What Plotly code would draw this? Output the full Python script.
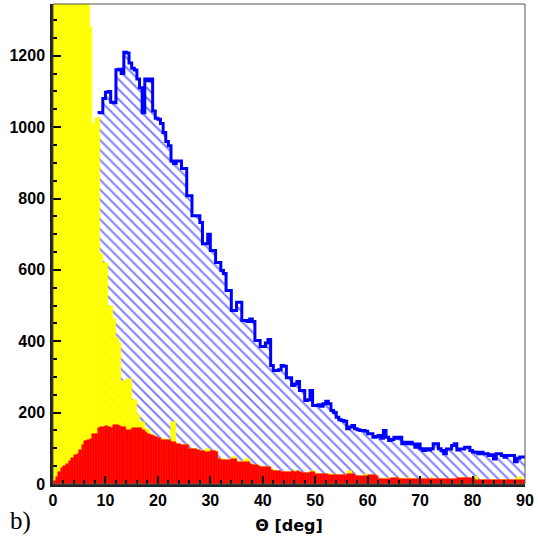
import numpy as np
import plotly.graph_objects as go

# theta histogram, 180 bins of 0.5 deg between 0 and 90
bin_width = 0.5
theta = np.arange(180) * bin_width + bin_width / 2
edges = np.arange(181) * bin_width

# all events (yellow, off scale in the first bins)
yellow = [1700, 2600, 3300, 3600, 3700, 3600, 3400, 3100, 2800, 2500,
          2200, 1900, 1700, 1500, 1281, 1010, 1025, 1025, 645, 620,
          620, 500, 500, 463, 408, 394, 290, 290, 295, 295,
          234, 234, 192, 173, 173, 155, 155, 140, 137, 133,
          130, 126, 125, 124, 123, 173, 173, 115, 112, 110,
          110, 111, 99, 98, 98, 95, 94, 93, 97, 97,
          93, 93, 92, 71, 69, 69, 68, 67, 77, 76,
          64, 63, 64, 70, 70, 56, 53, 53, 51, 50,
          49, 48, 48, 41, 38, 37, 37, 34, 34, 34,
          35, 37, 36, 37, 34, 32, 32, 32, 37, 36,
          30, 29, 29, 29, 29, 28, 28, 26, 25, 26,
          26, 25, 36, 36, 28, 23, 23, 23, 23, 27,
          25, 25, 25, 23, 15, 16, 15, 16, 15, 18,
          18, 18, 16, 15, 14, 16, 15, 15, 14, 15,
          15, 16, 15, 14, 19, 15, 15, 15, 15, 15,
          15, 15, 15, 15, 18, 18, 18, 18, 18, 18,
          20, 20, 11, 11, 11, 11, 11, 11, 11, 12,
          12, 12, 12, 12, 12, 12, 12, 19, 19, 12]

# selected events (blue hatched); hidden below the yellow for theta < 8.5
blue = [None] * 17 + [
    1041, 1040, 1080,
    1098, 1100, 1070, 1068, 1161, 1162, 1150, 1210, 1208, 1180,
    1165, 1160, 1135, 1110, 1040, 1135, 1130, 1135, 1045, 1025,
    1022, 1010, 985, 960, 948, 905, 898, 905, 905, 884,
    884, 808, 808, 752, 752, 752, 733, 673, 673, 700,
    654, 654, 621, 621, 598, 590, 542, 542, 486, 486,
    509, 509, 458, 458, 455, 462, 455, 402, 402, 385,
    385, 395, 405, 332, 318, 318, 320, 332, 330, 298,
    298, 276, 280, 287, 262, 262, 234, 236, 262, 220,
    220, 222, 218, 225, 232, 225, 206, 200, 187, 180,
    178, 176, 155, 160, 164, 155, 152, 150, 150, 148,
    141, 141, 131, 133, 136, 128, 150, 131, 122, 125,
    131, 128, 131, 113, 117, 113, 117, 112, 103, 112,
    99, 94, 99, 95, 99, 113, 113, 99, 94, 85,
    98, 98, 108, 113, 95, 98, 98, 103, 103, 94,
    90, 89, 85, 89, 85, 85, 80, 82, 70, 85,
    85, 80, 75, 80, 80, 80, 62, 72, 76, 76]

# background (red)
red = [8, 19, 33, 45, 50, 57, 64, 72, 80, 85,
       94, 109, 120, 123, 126, 140, 141, 158, 160, 161,
       162, 160, 157, 164, 164, 162, 161, 160, 150, 151,
       156, 157, 157, 156, 151, 146, 140, 136, 135, 131,
       128, 124, 123, 123, 122, 119, 118, 113, 111, 109,
       109, 110, 98, 97, 97, 94, 93, 92, 91, 90,
       92, 92, 91, 70, 68, 68, 67, 66, 70, 70,
       63, 62, 63, 63, 62, 55, 52, 52, 50, 49,
       48, 47, 47, 40, 37, 36, 36, 33, 33, 33,
       34, 36, 35, 36, 33, 31, 31, 31, 33, 33,
       29, 28, 28, 28, 28, 25, 25, 25, 24, 25,
       25, 24, 29, 29, 27, 22, 22, 22, 22, 23,
       24, 24, 24, 22, 14, 15, 14, 15, 14, 17,
       17, 17, 15, 14, 13, 15, 14, 14, 13, 14,
       14, 15, 14, 13, 14, 14, 14, 14, 13, 14,
       14, 15, 14, 14, 17, 17, 17, 16, 17, 17,
       17, 10, 10, 11, 10, 10, 11, 10, 10, 11,
       11, 11, 12, 11, 11, 11, 11, 11, 11, 12]

fig = go.Figure()

fig.add_trace(go.Bar(
    x=theta, y=blue, width=bin_width, hoverinfo="skip",
    marker=dict(color="white", line_width=0,
                pattern=dict(shape="\\", fgcolor="#0000ff", bgcolor="white",
                             size=7, solidity=0.28)),
))
fig.add_trace(go.Scatter(
    x=edges, y=blue + [blue[-1]], mode="lines", hoverinfo="skip",
    line=dict(shape="hv", color="#0000ff", width=3),
))
fig.add_trace(go.Bar(
    x=theta, y=yellow, width=bin_width, hoverinfo="skip",
    marker=dict(color="#ffff00", line=dict(color="#ffff00", width=0.5)),
))
fig.add_trace(go.Bar(
    x=theta, y=red, width=bin_width, hoverinfo="skip",
    marker=dict(color="#ff0000", line=dict(color="#ff0000", width=0.5)),
))

tick_font = dict(family="Liberation Sans", size=16, color="black", weight="bold")

fig.update_layout(
    width=538, height=541,
    margin=dict(l=53, r=8, t=4, b=57),
    barmode="overlay", bargap=0,
    showlegend=False,
    plot_bgcolor="white", paper_bgcolor="white",
    xaxis=dict(range=[0, 90], tick0=0, dtick=10, ticks="inside", ticklen=8,
               tickwidth=1.5, tickcolor="black", showgrid=False, zeroline=False,
               showline=True, linewidth=2.5, linecolor="#222",
               ticklabeloverflow="allow",
               minor=dict(dtick=2, ticks="inside", ticklen=4, tickcolor="black"),
               tickfont=tick_font,
               title=dict(text="Θ [deg]", standoff=12,
                          font=dict(family="DejaVu Sans", size=16, color="black",
                                    weight="bold"))),
    yaxis=dict(range=[0, 1345], tick0=0, dtick=200, ticks="inside", ticklen=8,
               tickwidth=1.5, tickcolor="black", showgrid=False, zeroline=False,
               showline=True, linewidth=2.5, linecolor="#222",
               ticklabelstandoff=2,
               minor=dict(dtick=50, ticks="inside", ticklen=4, tickcolor="black"),
               tickfont=tick_font),
)

# thin frame on top and right
fig.add_shape(type="rect", xref="paper", yref="paper", x0=0, x1=1, y0=0, y1=1,
              line=dict(color="#555", width=1), layer="above")

fig.add_annotation(text="b)", xref="paper", yref="paper", x=-0.095, y=-0.078,
                   xanchor="left", yanchor="middle", showarrow=False,
                   font=dict(family="Liberation Serif", size=25, color="black"))

fig.write_html("out.html", config={"displayModeBar": False},
               post_script="document.body.style.margin='0';")
